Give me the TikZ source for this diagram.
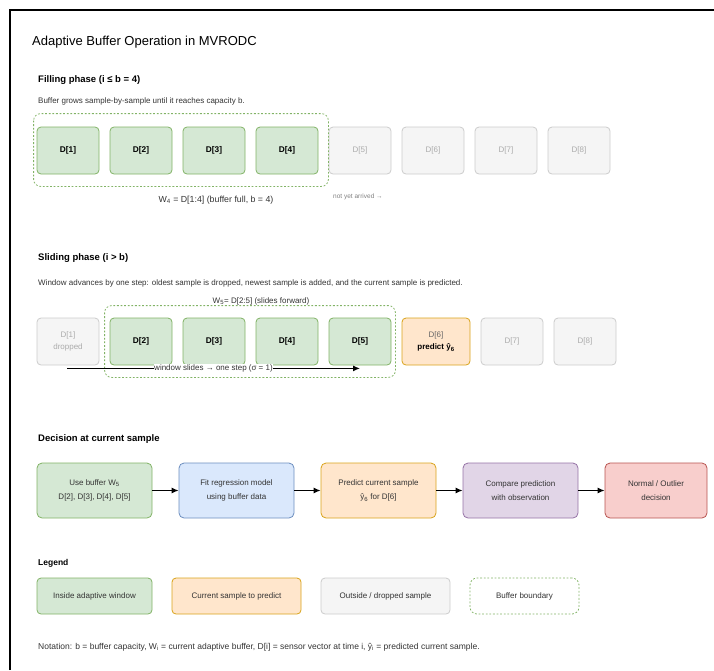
\documentclass[tikz,border=0pt]{standalone}
\usepackage{fontspec}
\setmainfont{Liberation Sans}
\usetikzlibrary{calc,arrows,arrows.meta,chains,positioning}

\definecolor{wingreen}{HTML}{D5E8D4}
\definecolor{winedge}{HTML}{82B366}
\definecolor{predfill}{HTML}{FFE6CC}
\definecolor{prededge}{HTML}{D9A31A}
\definecolor{fitfill}{HTML}{DAE8FC}
\definecolor{fitedge}{HTML}{6C8EBF}
\definecolor{cmpfill}{HTML}{E1D5E7}
\definecolor{cmpedge}{HTML}{9673A6}
\definecolor{outfill}{HTML}{F8CECC}
\definecolor{outedge}{HTML}{B85450}
\definecolor{offfill}{HTML}{F5F5F5}
\definecolor{offedge}{HTML}{CCCCCC}
\definecolor{offtext}{HTML}{ABABAB}
\definecolor{bodytext}{HTML}{333333}

\tikzset{
  txt/.style={anchor=west, inner sep=0pt, text=bodytext},
  head/.style={txt, text=black, font=\bfseries\fontsize{9.5}{11}\selectfont},
  note/.style={txt, font=\fontsize{8}{10}\selectfont},
  cell/.style={draw, rounded corners=4pt, line width=0.8pt, minimum width=62pt, minimum height=47pt, inner sep=1pt, align=center, font=\fontsize{8}{12.5}\selectfont},
  inwin/.style={cell, fill=wingreen, draw=winedge, font=\bfseries\fontsize{8.3}{12.5}\selectfont},
  offwin/.style={cell, fill=offfill, draw=offedge, text=offtext},
  curcell/.style={cell, fill=predfill, draw=prededge, minimum width=68pt},
  stepbox/.style={draw, rounded corners=5pt, line width=0.8pt, minimum width=115pt, minimum height=55pt, align=center, text=bodytext, font=\fontsize{8}{14.5}\selectfont},
  keybox/.style={draw, rounded corners=4pt, line width=0.8pt, minimum height=36pt, text=bodytext, font=\fontsize{8}{10}\selectfont},
  bufline/.style={draw=winedge, line width=0.8pt, dash pattern=on 1.8pt off 1.8pt, rounded corners=7pt},
  flow/.style={-{Latex[length=7pt,width=6pt]}, line width=1.2pt},
}

\begin{document}
\begin{tikzpicture}[x=1pt,y=-1pt]
\useasboundingbox (0,0) rectangle (714,670);
\draw[line width=1.6pt] (10,670) -- (10,10) -- (714,10);

\node[txt, text=black, font=\fontsize{13}{15}\selectfont] (title) at (32,42) {Adaptive Buffer Operation in MVRODC};

\node[head] (fillhead) at (38,80) {Filling phase (i ≤ b = 4)};
\node[note] (filldesc) at (38,101) {Buffer grows sample-by-sample until it reaches capacity b.};

\begin{scope}[shift={(68,150.5)},start chain=going right,node distance=10.2pt]
\foreach \i in {1,...,4}
  \node [on chain, inwin] (f\i) {D[\i]};
\foreach \i in {5,...,8}
  \node [on chain, offwin] (f\i) {D[\i]};
\end{scope}

\draw[bufline] ($(f1.north west)+(-3,-13)$) rectangle ($(f4.south east)+(10,12)$);
\node[text=bodytext, font=\fontsize{8.8}{10}\selectfont] (wfill) at (216,200) {W\textsubscript{4} = D[1:4] (buffer full, b = 4)};
\node[txt, text=gray, font=\fontsize{6.5}{8}\selectfont] (notyet) at (333,197) {not yet arrived →};

\node[head] (slidehead) at (38,258) {Sliding phase (i > b)};
\node[note] (slidedesc) at (38,283) {Window advances by one step: oldest sample is dropped, newest sample is added, and the current sample is predicted.};

\begin{scope}[shift={(68,341.5)},start chain=going right,node distance=10.2pt]
\node [on chain, offwin] (s1) {D[1]\\dropped};
\foreach \i in {2,...,5}
  \node [on chain, inwin] (s\i) {D[\i]};
\node [on chain, curcell] (s6) {\textcolor{black!60}{D[6]}\\\textbf{predict ŷ\textsubscript{6}}};
\foreach \i in {7,8}
  \node [on chain, offwin] (s\i) {D[\i]};
\end{scope}

\draw[bufline] ($(s2.north west)+(-5,-12)$) rectangle ($(s5.south east)+(4,12)$);
\node[text=bodytext, font=\fontsize{8}{10}\selectfont] (wslide) at (261,301) {W\textsubscript{5}= D[2:5] (slides forward)};

\coordinate (slidefrom) at ($(s1.south)+(-1,3)$);
\coordinate (slideto) at ($(s5.south)+(0,3)$);
\draw[flow] (slidefrom) -- node[fill=white, inner sep=0.5pt, text=bodytext, font=\fontsize{8}{10}\selectfont] (slidelbl) {window slides → one step (σ = 1)} (slideto);

\node[head] (dechead) at (38,439) {Decision at current sample};

\begin{scope}[shift={(94.5,490.5)},start chain=going right,node distance=26.2pt]
\node [on chain, stepbox, fill=wingreen, draw=winedge] (c1) {Use buffer W\textsubscript{5}\\D[2], D[3], D[4], D[5]};
\node [on chain, stepbox, fill=fitfill, draw=fitedge] (c2) {Fit regression model\\using buffer data};
\node [on chain, stepbox, fill=predfill, draw=prededge] (c3) {Predict current sample\\ŷ\textsubscript{6} for D[6]};
\node [on chain, stepbox, fill=cmpfill, draw=cmpedge] (c4) {Compare prediction\\with observation};
\node [on chain, stepbox, fill=outfill, draw=outedge, minimum width=102pt] (c5) {Normal / Outlier\\decision};
\end{scope}

\foreach \a/\b in {1/2,2/3,3/4,4/5}
  \draw[flow] (c\a) -- (c\b);

\node[head, font=\bfseries\fontsize{8.5}{10}\selectfont] (keyhead) at (38,563) {Legend};

\begin{scope}[shift={(94.5,596)},start chain=going right,node distance=19.2pt]
\node [on chain, keybox, fill=wingreen, draw=winedge, minimum width=115pt] (k1) {Inside adaptive window};
\node [on chain, keybox, fill=predfill, draw=prededge, minimum width=129pt] (k2) {Current sample to predict};
\node [on chain, keybox, fill=offfill, draw=offedge, minimum width=129pt] (k3) {Outside / dropped sample};
\node [on chain, keybox, bufline, minimum width=109pt] (k4) {Buffer boundary};
\end{scope}

\node[txt, font=\fontsize{8.5}{10}\selectfont] (notation) at (38,647) {Notation: b = buffer capacity, W\textsubscript{i} = current adaptive buffer, D[i] = sensor vector at time i, ŷ\textsubscript{i} = predicted current sample.};

\end{tikzpicture}
\end{document}
